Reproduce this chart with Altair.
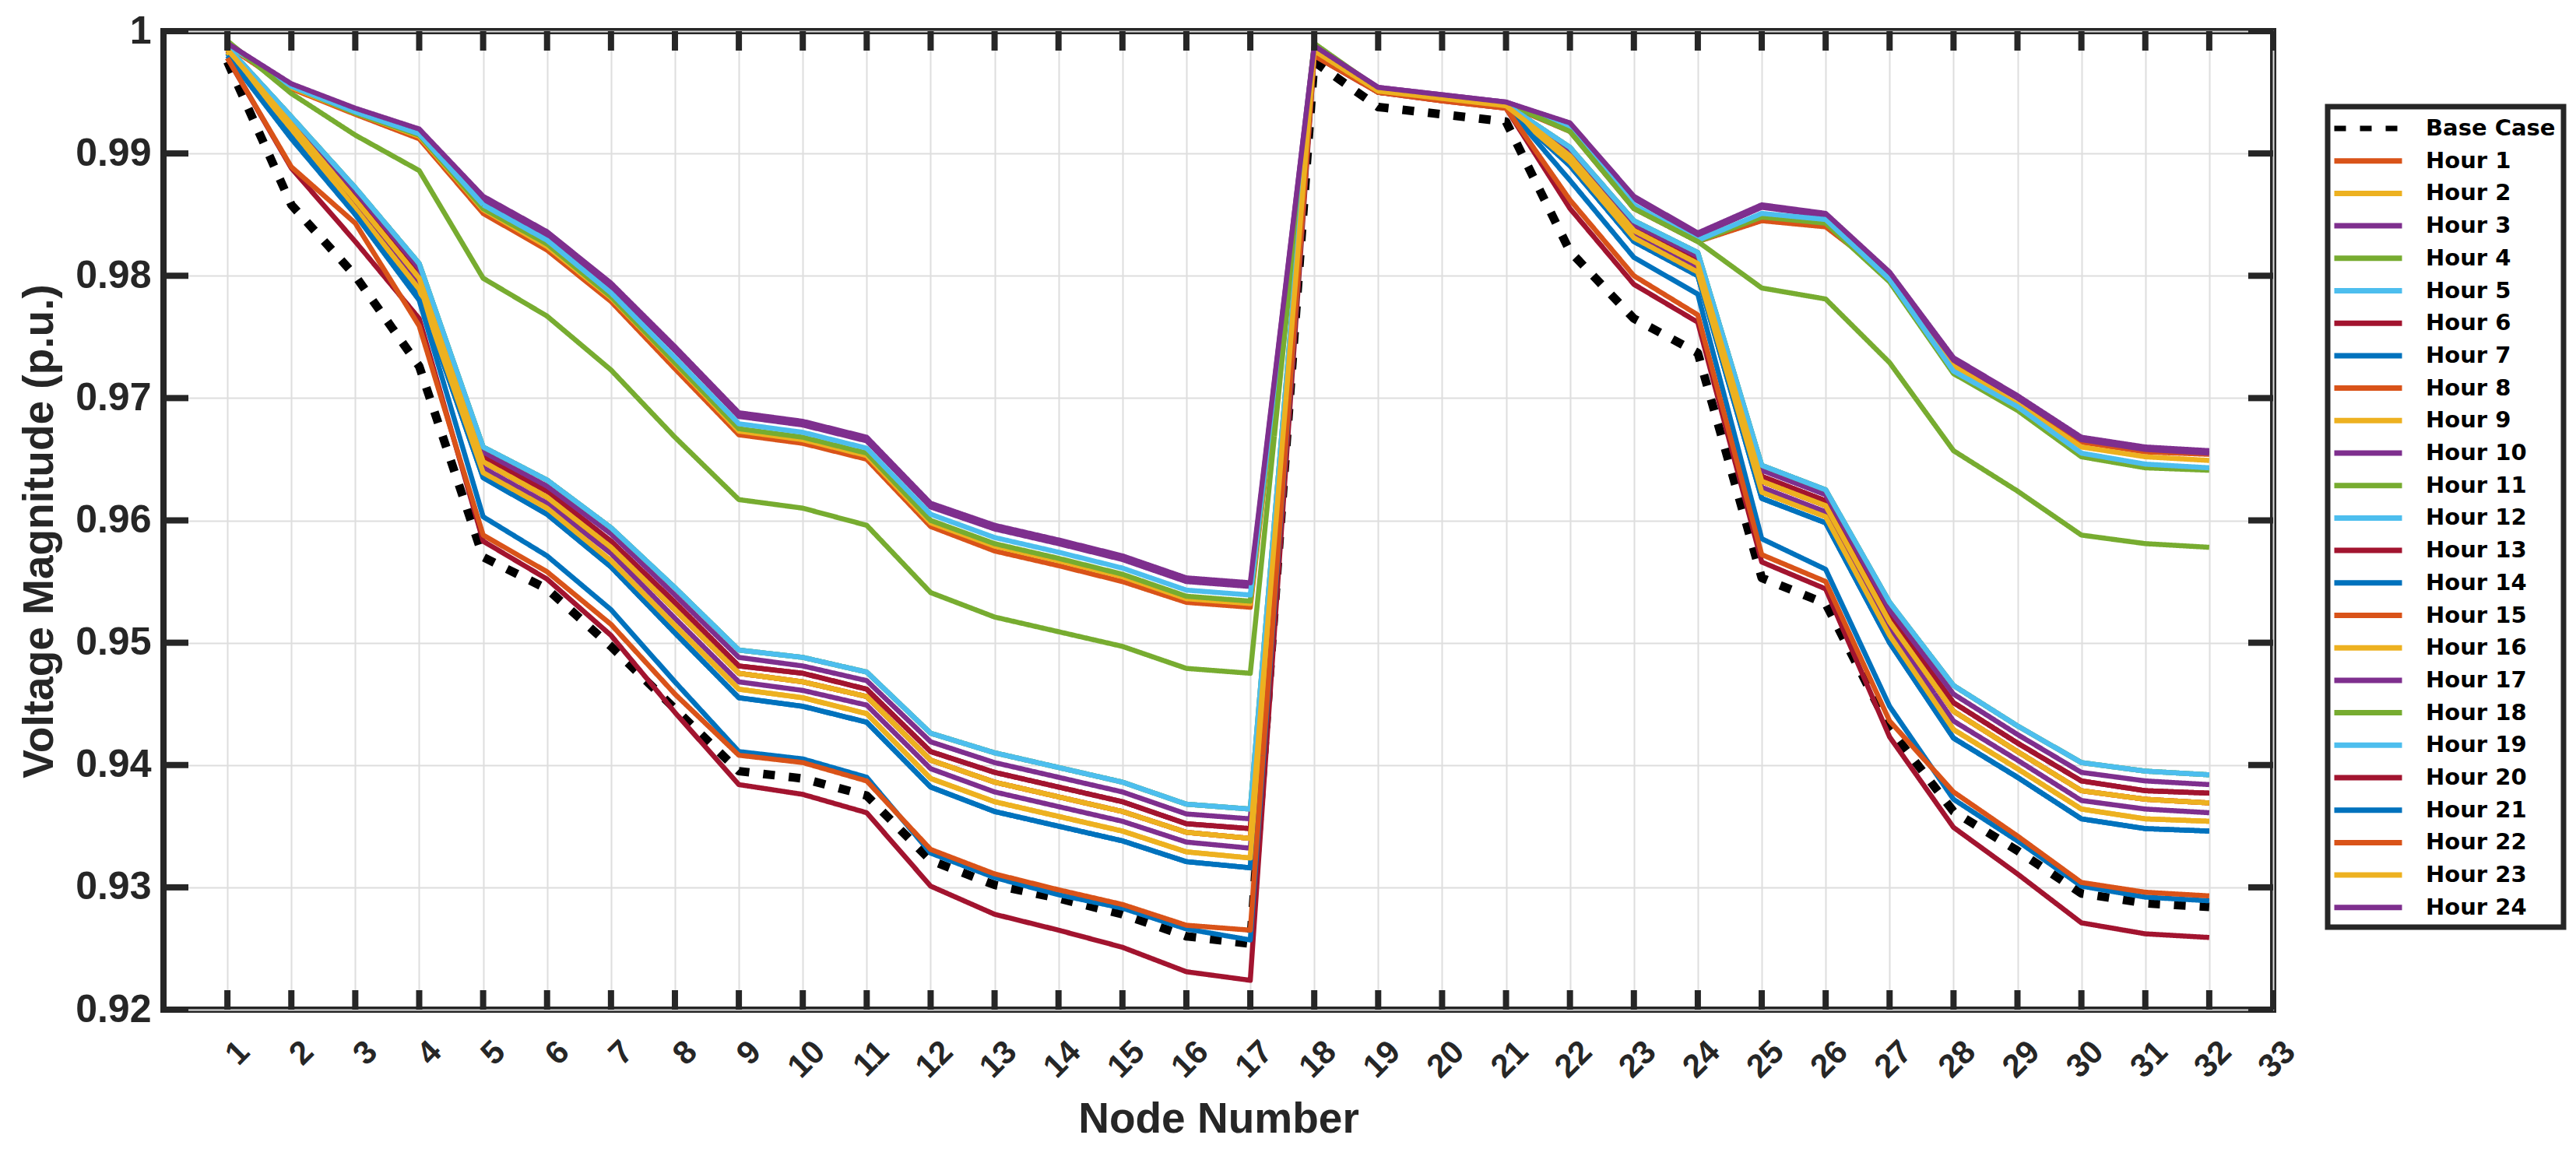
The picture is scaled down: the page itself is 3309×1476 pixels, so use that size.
import altair as alt
import pandas as pd

# ---------------- data ----------------
nodes = list(range(1, 33))
x_tick_values = list(range(1, 34))
y_tick_values = [0.92, 0.93, 0.94, 0.95, 0.96, 0.97, 0.98, 0.99, 1.0]

base_case = [0.9975, 0.9858, 0.9800, 0.9726, 0.9570, 0.9544, 0.9497, 0.9446, 0.9395, 0.9389, 0.9375, 0.9322, 0.9302, 0.9291, 0.9278, 0.9260,
             0.9254, 0.9975, 0.9938, 0.9932, 0.9926, 0.9820, 0.9765, 0.9737, 0.9553, 0.9532, 0.9430, 0.9362, 0.9330, 0.9295, 0.9287, 0.9284]

# upper bundle
hour_1 = [0.9988, 0.9953, 0.9932, 0.9912, 0.9851, 0.9821, 0.9779, 0.9724, 0.9670, 0.9663, 0.9650, 0.9595, 0.9575, 0.9563, 0.9550, 0.9533,
          0.9529, 0.9986, 0.9952, 0.9946, 0.9940, 0.9918, 0.9855, 0.9828, 0.9845, 0.9840, 0.9800, 0.9730, 0.9700, 0.9664, 0.9656, 0.9654]
hour_2 = [0.9989, 0.9954, 0.9933, 0.9914, 0.9854, 0.9824, 0.9782, 0.9728, 0.9673, 0.9666, 0.9653, 0.9598, 0.9579, 0.9567, 0.9554, 0.9536,
          0.9532, 0.9987, 0.9953, 0.9947, 0.9941, 0.9920, 0.9857, 0.9830, 0.9850, 0.9845, 0.9798, 0.9726, 0.9695, 0.9660, 0.9652, 0.9649]
hour_3 = [0.9990, 0.9956, 0.9935, 0.9918, 0.9862, 0.9833, 0.9791, 0.9739, 0.9685, 0.9678, 0.9665, 0.9611, 0.9593, 0.9581, 0.9568, 0.9550,
          0.9546, 0.9988, 0.9954, 0.9948, 0.9942, 0.9924, 0.9863, 0.9833, 0.9856, 0.9849, 0.9801, 0.9731, 0.9700, 0.9666, 0.9658, 0.9655]
hour_4 = [0.9990, 0.9955, 0.9933, 0.9915, 0.9855, 0.9826, 0.9783, 0.9729, 0.9675, 0.9668, 0.9655, 0.9600, 0.9581, 0.9569, 0.9556, 0.9538,
          0.9534, 0.9987, 0.9953, 0.9947, 0.9941, 0.9920, 0.9856, 0.9828, 0.9848, 0.9843, 0.9795, 0.9720, 0.9690, 0.9652, 0.9643, 0.9641]
hour_5 = [0.9989, 0.9955, 0.9934, 0.9916, 0.9858, 0.9829, 0.9786, 0.9733, 0.9679, 0.9672, 0.9659, 0.9605, 0.9586, 0.9574, 0.9561, 0.9543,
          0.9539, 0.9987, 0.9953, 0.9947, 0.9941, 0.9921, 0.9858, 0.9829, 0.9851, 0.9846, 0.9797, 0.9722, 0.9693, 0.9655, 0.9646, 0.9643]
hour_24 = [0.9990, 0.9957, 0.9937, 0.9920, 0.9865, 0.9836, 0.9794, 0.9742, 0.9688, 0.9681, 0.9668, 0.9614, 0.9596, 0.9584, 0.9571, 0.9553,
           0.9549, 0.9988, 0.9954, 0.9948, 0.9942, 0.9925, 0.9865, 0.9835, 0.9858, 0.9851, 0.9803, 0.9733, 0.9702, 0.9668, 0.9660, 0.9657]

# single intermediate line
hour_11 = [0.9992, 0.9949, 0.9915, 0.9886, 0.9798, 0.9767, 0.9723, 0.9668, 0.9617, 0.9610, 0.9596, 0.9541, 0.9521, 0.9509, 0.9497, 0.9479,
           0.9475, 0.9990, 0.9953, 0.9947, 0.9941, 0.9918, 0.9855, 0.9828, 0.9790, 0.9781, 0.9729, 0.9657, 0.9624, 0.9588, 0.9581, 0.9578]

# middle bundle (top to bottom)
mid_0 = [0.9987, 0.9930, 0.9872, 0.9810, 0.9660, 0.9633, 0.9594, 0.9545, 0.9494, 0.9488, 0.9476, 0.9426, 0.9410, 0.9398, 0.9386, 0.9368,
         0.9364, 0.9985, 0.9952, 0.9946, 0.9940, 0.9905, 0.9845, 0.9819, 0.9645, 0.9625, 0.9533, 0.9465, 0.9432, 0.9402, 0.9395, 0.9392]
mid_1 = [0.9986, 0.9928, 0.9869, 0.9806, 0.9656, 0.9628, 0.9589, 0.9539, 0.9488, 0.9481, 0.9469, 0.9419, 0.9402, 0.9390, 0.9378, 0.9360,
         0.9356, 0.9985, 0.9952, 0.9946, 0.9940, 0.9903, 0.9842, 0.9816, 0.9641, 0.9621, 0.9527, 0.9458, 0.9425, 0.9394, 0.9387, 0.9384]
mid_2 = [0.9986, 0.9926, 0.9865, 0.9802, 0.9652, 0.9624, 0.9583, 0.9533, 0.9481, 0.9475, 0.9462, 0.9411, 0.9394, 0.9382, 0.9370, 0.9352,
         0.9348, 0.9984, 0.9951, 0.9945, 0.9939, 0.9900, 0.9839, 0.9813, 0.9636, 0.9616, 0.9522, 0.9451, 0.9418, 0.9387, 0.9379, 0.9377]
mid_3 = [0.9985, 0.9924, 0.9862, 0.9798, 0.9648, 0.9619, 0.9578, 0.9527, 0.9475, 0.9468, 0.9456, 0.9404, 0.9386, 0.9374, 0.9362, 0.9345,
         0.9340, 0.9984, 0.9951, 0.9945, 0.9939, 0.9898, 0.9837, 0.9810, 0.9632, 0.9612, 0.9517, 0.9444, 0.9411, 0.9379, 0.9372, 0.9369]
mid_4 = [0.9984, 0.9922, 0.9859, 0.9793, 0.9643, 0.9614, 0.9573, 0.9520, 0.9468, 0.9461, 0.9449, 0.9397, 0.9378, 0.9366, 0.9354, 0.9337,
         0.9332, 0.9984, 0.9951, 0.9945, 0.9939, 0.9895, 0.9834, 0.9806, 0.9627, 0.9607, 0.9511, 0.9436, 0.9404, 0.9371, 0.9364, 0.9361]
mid_5 = [0.9983, 0.9920, 0.9855, 0.9789, 0.9639, 0.9610, 0.9567, 0.9514, 0.9462, 0.9455, 0.9442, 0.9389, 0.9370, 0.9358, 0.9346, 0.9329,
         0.9324, 0.9983, 0.9950, 0.9944, 0.9938, 0.9893, 0.9831, 0.9803, 0.9623, 0.9603, 0.9506, 0.9429, 0.9397, 0.9364, 0.9356, 0.9354]
mid_6 = [0.9982, 0.9918, 0.9852, 0.9785, 0.9635, 0.9605, 0.9562, 0.9508, 0.9455, 0.9448, 0.9435, 0.9382, 0.9362, 0.9350, 0.9338, 0.9321,
         0.9316, 0.9983, 0.9950, 0.9944, 0.9938, 0.9890, 0.9828, 0.9800, 0.9618, 0.9598, 0.9500, 0.9422, 0.9390, 0.9356, 0.9348, 0.9346]

# lower bundle
hour_20 = [0.9978, 0.9888, 0.9828, 0.9765, 0.9583, 0.9552, 0.9506, 0.9443, 0.9384, 0.9376, 0.9361, 0.9301, 0.9278, 0.9265, 0.9251, 0.9231,
           0.9224, 0.9980, 0.9950, 0.9943, 0.9937, 0.9855, 0.9793, 0.9762, 0.9566, 0.9544, 0.9423, 0.9349, 0.9311, 0.9271, 0.9262, 0.9259]
hour_21 = [0.9980, 0.9912, 0.9850, 0.9780, 0.9603, 0.9571, 0.9527, 0.9468, 0.9411, 0.9405, 0.9390, 0.9328, 0.9308, 0.9294, 0.9283, 0.9266,
           0.9257, 0.9982, 0.9951, 0.9944, 0.9939, 0.9878, 0.9815, 0.9785, 0.9585, 0.9560, 0.9448, 0.9372, 0.9338, 0.9301, 0.9292, 0.9289]
hour_22 = [0.9978, 0.9889, 0.9843, 0.9759, 0.9588, 0.9558, 0.9515, 0.9458, 0.9408, 0.9402, 0.9387, 0.9331, 0.9311, 0.9298, 0.9286, 0.9269,
           0.9265, 0.9980, 0.9950, 0.9943, 0.9937, 0.9862, 0.9800, 0.9768, 0.9572, 0.9550, 0.9436, 0.9378, 0.9342, 0.9304, 0.9296, 0.9293]

series_names = ["Base Case"] + [f"Hour {i}" for i in range(1, 25)]
series_values = [
    base_case,
    hour_1, hour_2, hour_3, hour_4, hour_5,
    mid_2,   # Hour 6
    mid_6,   # Hour 7
    mid_3,   # Hour 8
    mid_5,   # Hour 9
    mid_4,   # Hour 10
    hour_11,
    mid_0,   # Hour 12
    mid_2,   # Hour 13
    mid_6,   # Hour 14
    mid_3,   # Hour 15
    mid_5,   # Hour 16
    mid_1,   # Hour 17
    mid_0,   # Hour 18
    mid_0,   # Hour 19
    hour_20, hour_21, hour_22,
    mid_3,   # Hour 23
    hour_24,
]

# MATLAB default colour order (Base Case is black)
BLUE, ORANGE, YELLOW, PURPLE = "#0072BD", "#D95319", "#EDB120", "#7E2F8E"
GREEN, LIGHTBLUE, DARKRED = "#77AC30", "#4DBEEE", "#A2142F"
cycle = [BLUE, ORANGE, YELLOW, PURPLE, GREEN, LIGHTBLUE, DARKRED]
series_colors = ["#000000"] + [cycle[i % 7] for i in range(1, 25)]
series_dashes = [[15, 18]] + [[1, 0]] * 24
series_widths = [11] + [6.5] * 24

rows = []
for name, vals, w in zip(series_names, series_values, series_widths):
    for n, v in zip(nodes, vals):
        rows.append({"Series": name, "Node": n, "Voltage": v, "W": w})
df = pd.DataFrame(rows)

# ---------------- layout ----------------
W, H = 2710, 1257
INK = "#262626"
FONT = "Liberation Sans"
LEGEND_FONT = "DejaVu Sans"

x_enc = alt.X(
    "Node:Q",
    scale=alt.Scale(domain=[0, 33], nice=False, zero=False),
    axis=alt.Axis(
        values=x_tick_values, title="Node Number", grid=True, ticks=False, tickSize=0, domain=False,
        labelAngle=315, labelAlign="right", labelBaseline="middle", labelOffset=21, labelPadding=47,
        labelFont=FONT, labelFontWeight="bold", labelFontSize=42, labelColor=INK,
        labelFlush=False, labelOverlap=False,
        titleFont=FONT, titleFontWeight="bold", titleFontSize=55, titleColor=INK,
        titleX=W / 2, titleY=157, titleAlign="center", titleBaseline="alphabetic",
        gridColor="#dedede", gridWidth=2,
    ),
)
y_enc = alt.Y(
    "Voltage:Q",
    scale=alt.Scale(domain=[0.92, 1.0], nice=False, zero=False),
    axis=alt.Axis(
        values=y_tick_values, title="Voltage Magnitude (p.u.)", grid=True, ticks=False, tickSize=0, domain=False,
        labelExpr="datum.value >= 0.99999 ? '1' : format(datum.value, '.2f')",
        labelPadding=16, labelBaseline="middle", labelAlign="right",
        labelFont=FONT, labelFontWeight="bold", labelFontSize=50, labelColor=INK,
        labelFlush=False, labelOverlap=False,
        titleFont=FONT, titleFontWeight="bold", titleFontSize=55, titleColor=INK,
        titleX=-143, titleY=642, titleAngle=270, titleAlign="center", titleBaseline="alphabetic",
        gridColor="#dedede", gridWidth=2,
    ),
)

legend = alt.Legend(
    title=None, orient="none", legendX=2780, legendY=97,
    strokeColor=INK, fillColor="white", padding=10,
    labelFont=LEGEND_FONT, labelFontSize=29, labelFontWeight="bold", labelColor="#000000", labelLimit=400,
    symbolType="M-3,0H3", symbolSize=841, symbolStrokeWidth=7, symbolOffset=24,
    labelOffset=56, rowPadding=8.7,
)

lines = alt.Chart(df).mark_line(strokeJoin="round", strokeCap="butt").encode(
    x=x_enc,
    y=y_enc,
    color=alt.Color("Series:N", scale=alt.Scale(domain=series_names, range=series_colors), legend=legend, sort=series_names),
    strokeDash=alt.StrokeDash("Series:N", scale=alt.Scale(domain=series_names, range=series_dashes), legend=legend, sort=series_names),
    strokeWidth=alt.StrokeWidth("W:Q", scale=None),
)

xt = pd.DataFrame({"Node": x_tick_values})
yt = pd.DataFrame({"Voltage": y_tick_values})
tick_style = dict(color=INK, strokeWidth=8)

bottom_ticks = alt.Chart(xt).mark_rule(**tick_style).encode(x=x_enc, y=alt.value(H), y2=alt.value(H - 25))
top_ticks = alt.Chart(xt).mark_rule(**tick_style).encode(x=x_enc, y=alt.value(0), y2=alt.value(25))
left_ticks = alt.Chart(yt).mark_rule(**tick_style).encode(y=y_enc, x=alt.value(0), x2=alt.value(32))
right_ticks = alt.Chart(yt).mark_rule(**tick_style).encode(y=y_enc, x=alt.value(W), x2=alt.value(W - 32))

chart = (
    alt.layer(lines, bottom_ticks, top_ticks, left_ticks, right_ticks)
    .properties(
        width=W, height=H,
        autosize=alt.AutoSizeParams(type="none"),
        padding={"left": 202, "top": 32, "right": 380, "bottom": 171},
        background="white",
    )
    .configure_view(stroke=INK, strokeWidth=8)
    .configure_legend(strokeWidth=7)
)

chart.save("out.html", embed_options={"renderer": "svg", "actions": False})
